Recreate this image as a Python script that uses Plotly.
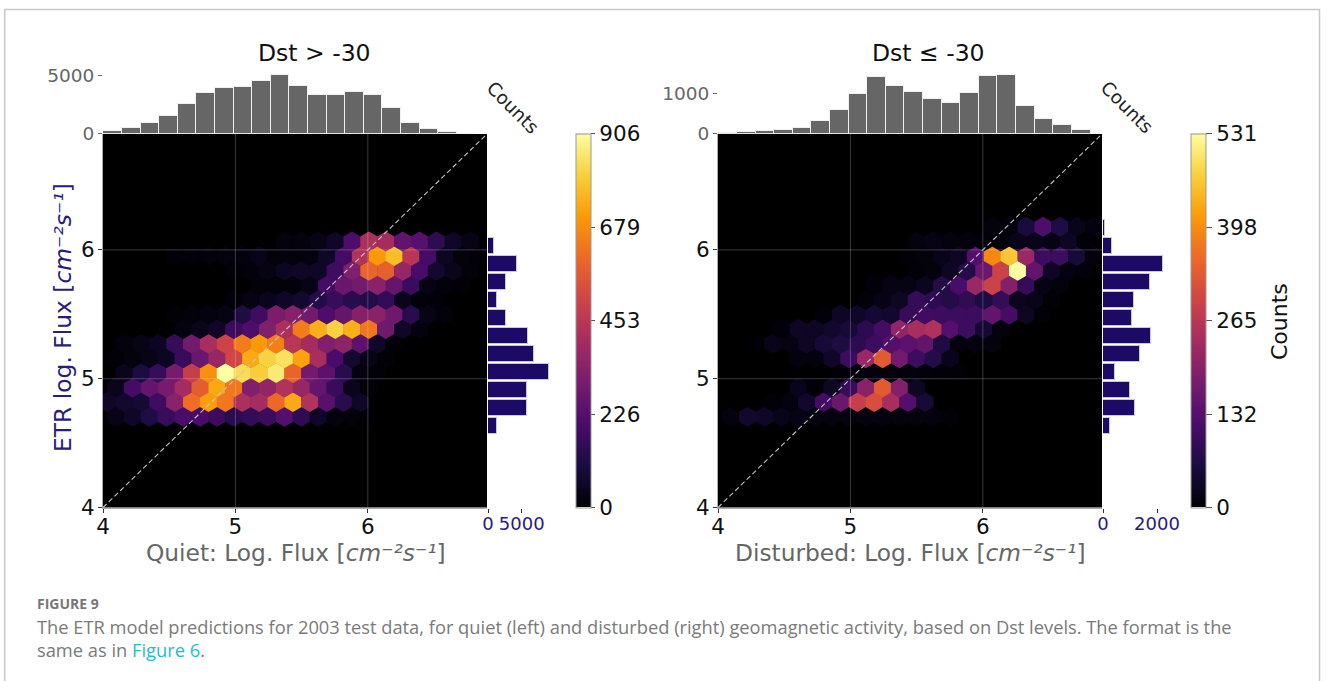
import plotly.graph_objects as go

W, H = 1328, 681

# ---------- data ----------
hex_x0 = 4.032      # first hexagon centre, odd rows
hex_dx = 0.1275
hex_y0 = 4.705
hex_dy = 0.1134

quiet_counts = [
 [30,60,110,160,200,200,170,130,150,170,220,140,60,20,10,3,0,0,0,0,0,0,0],
 [60,70,80,180,340,610,710,630,420,400,600,730,430,230,130,60,0,0,0,0,0,0,0],
 [40,190,260,300,400,570,730,630,320,360,430,370,260,160,40,10,0,0,0,0,0,0,0],
 [0,40,100,160,300,480,680,906,830,800,860,590,290,240,130,20,5,0,0,0,0,0,0],
 [5,15,30,50,160,270,370,510,730,810,840,720,410,200,70,30,5,0,0,0,0,0,0],
 [0,15,30,50,160,290,410,500,640,700,650,450,400,320,350,240,60,5,0,0,0,0,0],
 [0,0,0,0,20,40,60,170,210,320,420,640,740,810,740,630,280,60,20,0,0,0,0],
 [0,0,0,0,5,10,20,25,110,180,310,330,290,210,260,330,340,280,130,30,10,0,0],
 [0,0,0,0,0,0,0,8,25,40,60,70,120,160,130,120,150,40,10,8,0,0,0],
 [0,0,0,0,0,0,0,0,0,10,10,10,30,190,270,290,340,260,170,25,10,5,0],
 [0,0,0,0,0,0,0,8,12,25,50,55,60,180,320,590,580,370,200,70,40,10,0],
 [0,0,0,0,8,8,12,15,20,35,15,15,15,60,190,430,700,770,450,190,50,15,8],
 [0,0,0,0,0,0,0,0,0,0,15,15,30,60,210,420,400,250,230,140,60,30,0],
]
disturbed_counts = [
 [10,40,35,20,15,8,10,12,12,12,10,8,8,3,0,0,0,0,0,0,0,0,0],
 [0,0,0,5,12,40,110,160,280,310,240,130,50,0,0,0,0,0,0,0,0,0,0],
 [0,0,0,0,20,5,30,95,200,330,190,30,0,0,0,0,0,0,0,0,0,0,0],
 [0,0,0,0,0,0,0,5,8,10,10,8,6,5,4,0,0,0,0,0,0,0,0],
 [0,0,0,0,8,8,35,100,220,330,170,100,70,20,0,0,0,0,0,0,0,0,0],
 [0,0,2,20,15,30,50,60,80,100,130,140,150,60,12,12,8,0,0,0,0,0,0],
 [0,0,0,5,30,30,40,50,80,110,210,240,250,130,100,45,8,0,0,0,0,0,0],
 [0,0,0,0,0,0,5,30,35,45,40,90,105,100,100,100,150,110,30,3,0,0,0],
 [0,0,0,0,0,0,0,0,6,15,30,90,80,70,85,60,90,25,20,4,0,0,0],
 [0,0,0,0,0,0,0,0,0,5,15,15,25,70,115,220,290,190,90,15,8,0,0],
 [0,0,0,0,0,0,0,0,0,0,0,5,12,30,70,160,290,531,150,30,12,6,0],
 [0,0,0,0,0,0,0,0,0,0,0,3,8,20,30,130,390,460,220,100,100,50,10],
 [0,0,0,0,0,0,0,0,0,0,0,8,15,12,10,6,8,20,20,15,30,3,0],
 [0,0,0,0,0,0,0,0,0,0,0,0,0,0,0,0,8,6,55,120,65,20,12],
]

top_bins = [4.073,4.214,4.354,4.495,4.635,4.776,4.916,5.057,5.197,5.338,
            5.478,5.619,5.759,5.900,6.040,6.181,6.321,6.462,6.602,6.743]
quiet_top = [200,490,915,1510,2510,3490,3900,4030,4500,5000,
             4080,3340,3260,3540,3310,2200,940,400,110,0]
disturbed_top = [10,40,60,85,140,320,575,985,1420,1175,
                 1025,870,750,1015,1435,1465,675,375,210,100]

side_bins = [4.631,4.771,4.911,5.051,5.190,5.330,5.470,5.610,5.750,5.890,6.030,6.170]
quiet_side = [1300,5850,5750,9000,6750,5900,2650,1400,2650,4350,950,0]
disturbed_side = [250,1170,1000,445,1380,1790,1070,1150,1740,2230,350,90]

quiet_cbar_ticks = [0,226,453,679,906]
disturbed_cbar_ticks = [0,132,265,398,531]
main_ticks = [4,5,6]
AX_MIN, AX_MAX = 4, 6.9

caption_line1 = ("The ETR model predictions for 2003 test data, for quiet (left) and disturbed (right) "
                 "geomagnetic activity, based on Dst levels. The format is the")
caption_line2 = 'same as in <span style="color:#1fbccf">Figure 6</span>.'

# ---------- styles ----------
FONT = "DejaVu Sans"
NAVY = "#2a1b7c"
GREY = "#666666"
BAR_NAVY = "#1c0a66"
HEX_SIZE = 20


def fx(px): return px / W
def fy(py): return 1 - py / H


fig = go.Figure()


def hex_points(counts):
    xs, ys, cs = [], [], []
    for r, row in enumerate(counts):
        for c, v in enumerate(row):
            if v > 0:
                xs.append(hex_x0 + hex_dx * (c + (0.5 if r % 2 == 0 else 0)))
                ys.append(hex_y0 + hex_dy * r)
                cs.append(v)
    return xs, ys, cs


def panel(n, counts, top, side, left_px, cbar_px, cticks, top_max, side_max, side_ticks, top_ticks, cbar_ticklen):
    right_px = left_px + 384
    base = 3 * n
    xm, ym = f"x{base+1}", f"y{base+1}"
    xt, yt = f"x{base+2}", f"y{base+2}"
    xs_, ys_ = f"x{base+3}", f"y{base+3}"
    hx, hy, hc = hex_points(counts)
    cmax = cticks[-1]
    fig.add_trace(go.Scatter(
        x=hx, y=hy, mode="markers", xaxis=xm, yaxis=ym, showlegend=False,
        marker=dict(symbol="hexagon", size=HEX_SIZE, color=hc, cmin=0, cmax=cmax,
                    colorscale="Inferno", line=dict(width=0),
                    colorbar=dict(
                        x=fx(cbar_px), xanchor="left", xpad=0, ypad=0,
                        y=fy(507.5), yanchor="bottom",
                        lenmode="pixels", len=373.5,
                        thicknessmode="pixels", thickness=15,
                        tickmode="array", tickvals=cticks, ticks="outside", ticklen=cbar_ticklen,
                        tickcolor="#555555", tickwidth=1,
                        outlinecolor="#999999", outlinewidth=1,
                        tickfont=dict(family=FONT, size=21.5, color="#111111"),
                    ))))
    # grid lines above the hexagons
    for t in (5, 6):
        fig.add_trace(go.Scatter(x=[t, t], y=[AX_MIN, AX_MAX], mode="lines", xaxis=xm, yaxis=ym,
                                 showlegend=False, hoverinfo="skip",
                                 line=dict(color="rgba(255,255,255,0.22)", width=1)))
        fig.add_trace(go.Scatter(x=[AX_MIN, AX_MAX], y=[t, t], mode="lines", xaxis=xm, yaxis=ym,
                                 showlegend=False, hoverinfo="skip",
                                 line=dict(color="rgba(255,255,255,0.22)", width=1)))
    fig.add_trace(go.Scatter(x=[AX_MIN, AX_MAX], y=[AX_MIN, AX_MAX], mode="lines", xaxis=xm, yaxis=ym,
                             showlegend=False, hoverinfo="skip",
                             line=dict(color="#c4c4c4", width=1.1, dash="5px,3px")))
    fig.add_trace(go.Bar(x=top_bins, y=top, xaxis=xt, yaxis=yt, width=0.1405, showlegend=False,
                         marker=dict(color=GREY, line=dict(color="#f0f0f0", width=1))))
    fig.add_trace(go.Bar(x=side, y=side_bins, orientation="h", xaxis=xs_, yaxis=ys_, width=0.1225,
                         showlegend=False,
                         marker=dict(color=BAR_NAVY, line=dict(color="#c9c5e2", width=1))))

    def k(s):
        return s[0] + "axis" + s[1:]
    main_common = dict(range=[AX_MIN, AX_MAX], tickmode="array", tickvals=main_ticks, ticks="outside",
                       ticklen=4, tickcolor="#333333", tickwidth=1, showgrid=False, zeroline=False,
                       showline=True, linecolor="#aaaaaa", linewidth=1, mirror=False,
                       tickfont=dict(family=FONT, size=21.5, color="#111111"))
    fig.update_layout({
        k(xm): dict(domain=[fx(left_px), fx(right_px)], anchor=ym, ticklabelstandoff=-4, **main_common),
        k(ym): dict(domain=[fy(507.5), fy(134)], anchor=xm, ticklabelstandoff=-1, **main_common),
        k(xt): dict(domain=[fx(left_px), fx(right_px)], anchor=yt, range=[AX_MIN, AX_MAX], visible=False),
        k(yt): dict(domain=[fy(133.5), fy(70)], anchor=xt, range=[0, top_max], tickmode="array",
                    tickvals=top_ticks, ticks="outside", ticklen=4, tickcolor=GREY, showgrid=False,
                    zeroline=False, showline=False,
                    tickfont=dict(family=FONT, size=18.5, color=GREY)),
        k(xs_): dict(domain=[fx(right_px + 1), fx(right_px + 68)], anchor=ys_, range=[0, side_max],
                     tickmode="array", tickvals=side_ticks, ticks="outside", ticklen=4, ticklabelstandoff=-4,
                     tickcolor=NAVY, showgrid=False, zeroline=False, showline=False,
                     tickfont=dict(family=FONT, size=18, color=NAVY)),
        k(ys_): dict(domain=[fy(507.5), fy(134)], anchor=xs_, range=[AX_MIN, AX_MAX], visible=False),
    })


panel(0, quiet_counts, quiet_top, quiet_side, 103, 576, quiet_cbar_ticks, 5446, 9940, [0, 5000], [0, 5000], 4)
panel(1, disturbed_counts, disturbed_top, disturbed_side, 718, 1191, disturbed_cbar_ticks, 1587, 2480, [0, 2000], [0, 1000], 6)


def note(text, px, py, size, color, angle=0, family=FONT, xanchor="center", yanchor="middle"):
    fig.add_annotation(text=text, x=fx(px), y=fy(py), xref="paper", yref="paper", showarrow=False,
                       xanchor=xanchor, yanchor=yanchor, textangle=angle, align="left",
                       font=dict(family=family, size=size, color=color))


note("Dst &gt; -30", 314.5, 53, 23.5, "#111111")
note("Dst ≤ -30", 928, 53, 23.5, "#111111")
note("Quiet: Log. Flux [<i>cm⁻²s⁻¹</i>]", 295.5, 552, 23.3, GREY)
note("Disturbed: Log. Flux [<i>cm⁻²s⁻¹</i>]", 910, 552, 23.3, GREY)
note("ETR log. Flux [<i>cm⁻²s⁻¹</i>]", 63, 318, 23.4, NAVY, angle=-90)
note("Counts", 513, 107, 18.5, "#222222", angle=45)
note("Counts", 1127.5, 107, 18.5, "#222222", angle=45)
note("Counts", 1279, 322, 22, "#111111", angle=-90)

CAP = "Open Sans"
note("<b>FIGURE 9</b>", 35, 603, 14, "#777777", family=CAP, xanchor="left")
note(caption_line1, 35, 626, 18.3, "#7a7a7a", family=CAP, xanchor="left")
note(caption_line2, 35, 649, 18.3, "#7a7a7a", family=CAP, xanchor="left")

fig.add_shape(type="rect", xref="paper", yref="paper", x0=fx(4.7), x1=fx(1319.5), y0=fy(700), y1=fy(9.5),
              line=dict(color="#c8c8c8", width=1.5), fillcolor="rgba(0,0,0,0)", layer="below")

fig.update_layout(width=W, height=H, margin=dict(l=0, r=0, t=0, b=0, autoexpand=False), autosize=False,
                  paper_bgcolor="white", plot_bgcolor="rgba(0,0,0,0)", showlegend=False, bargap=0)

for left in (103, 718):
    fig.add_shape(type="rect", xref="paper", yref="paper", x0=fx(left), x1=fx(left + 384), y0=fy(507.5), y1=fy(134),
                  fillcolor="black", line=dict(width=0), layer="below")

fig.write_html("out.html", config={"displayModeBar": False},
               post_script="document.body.style.margin='0';document.body.style.overflow='hidden';")
